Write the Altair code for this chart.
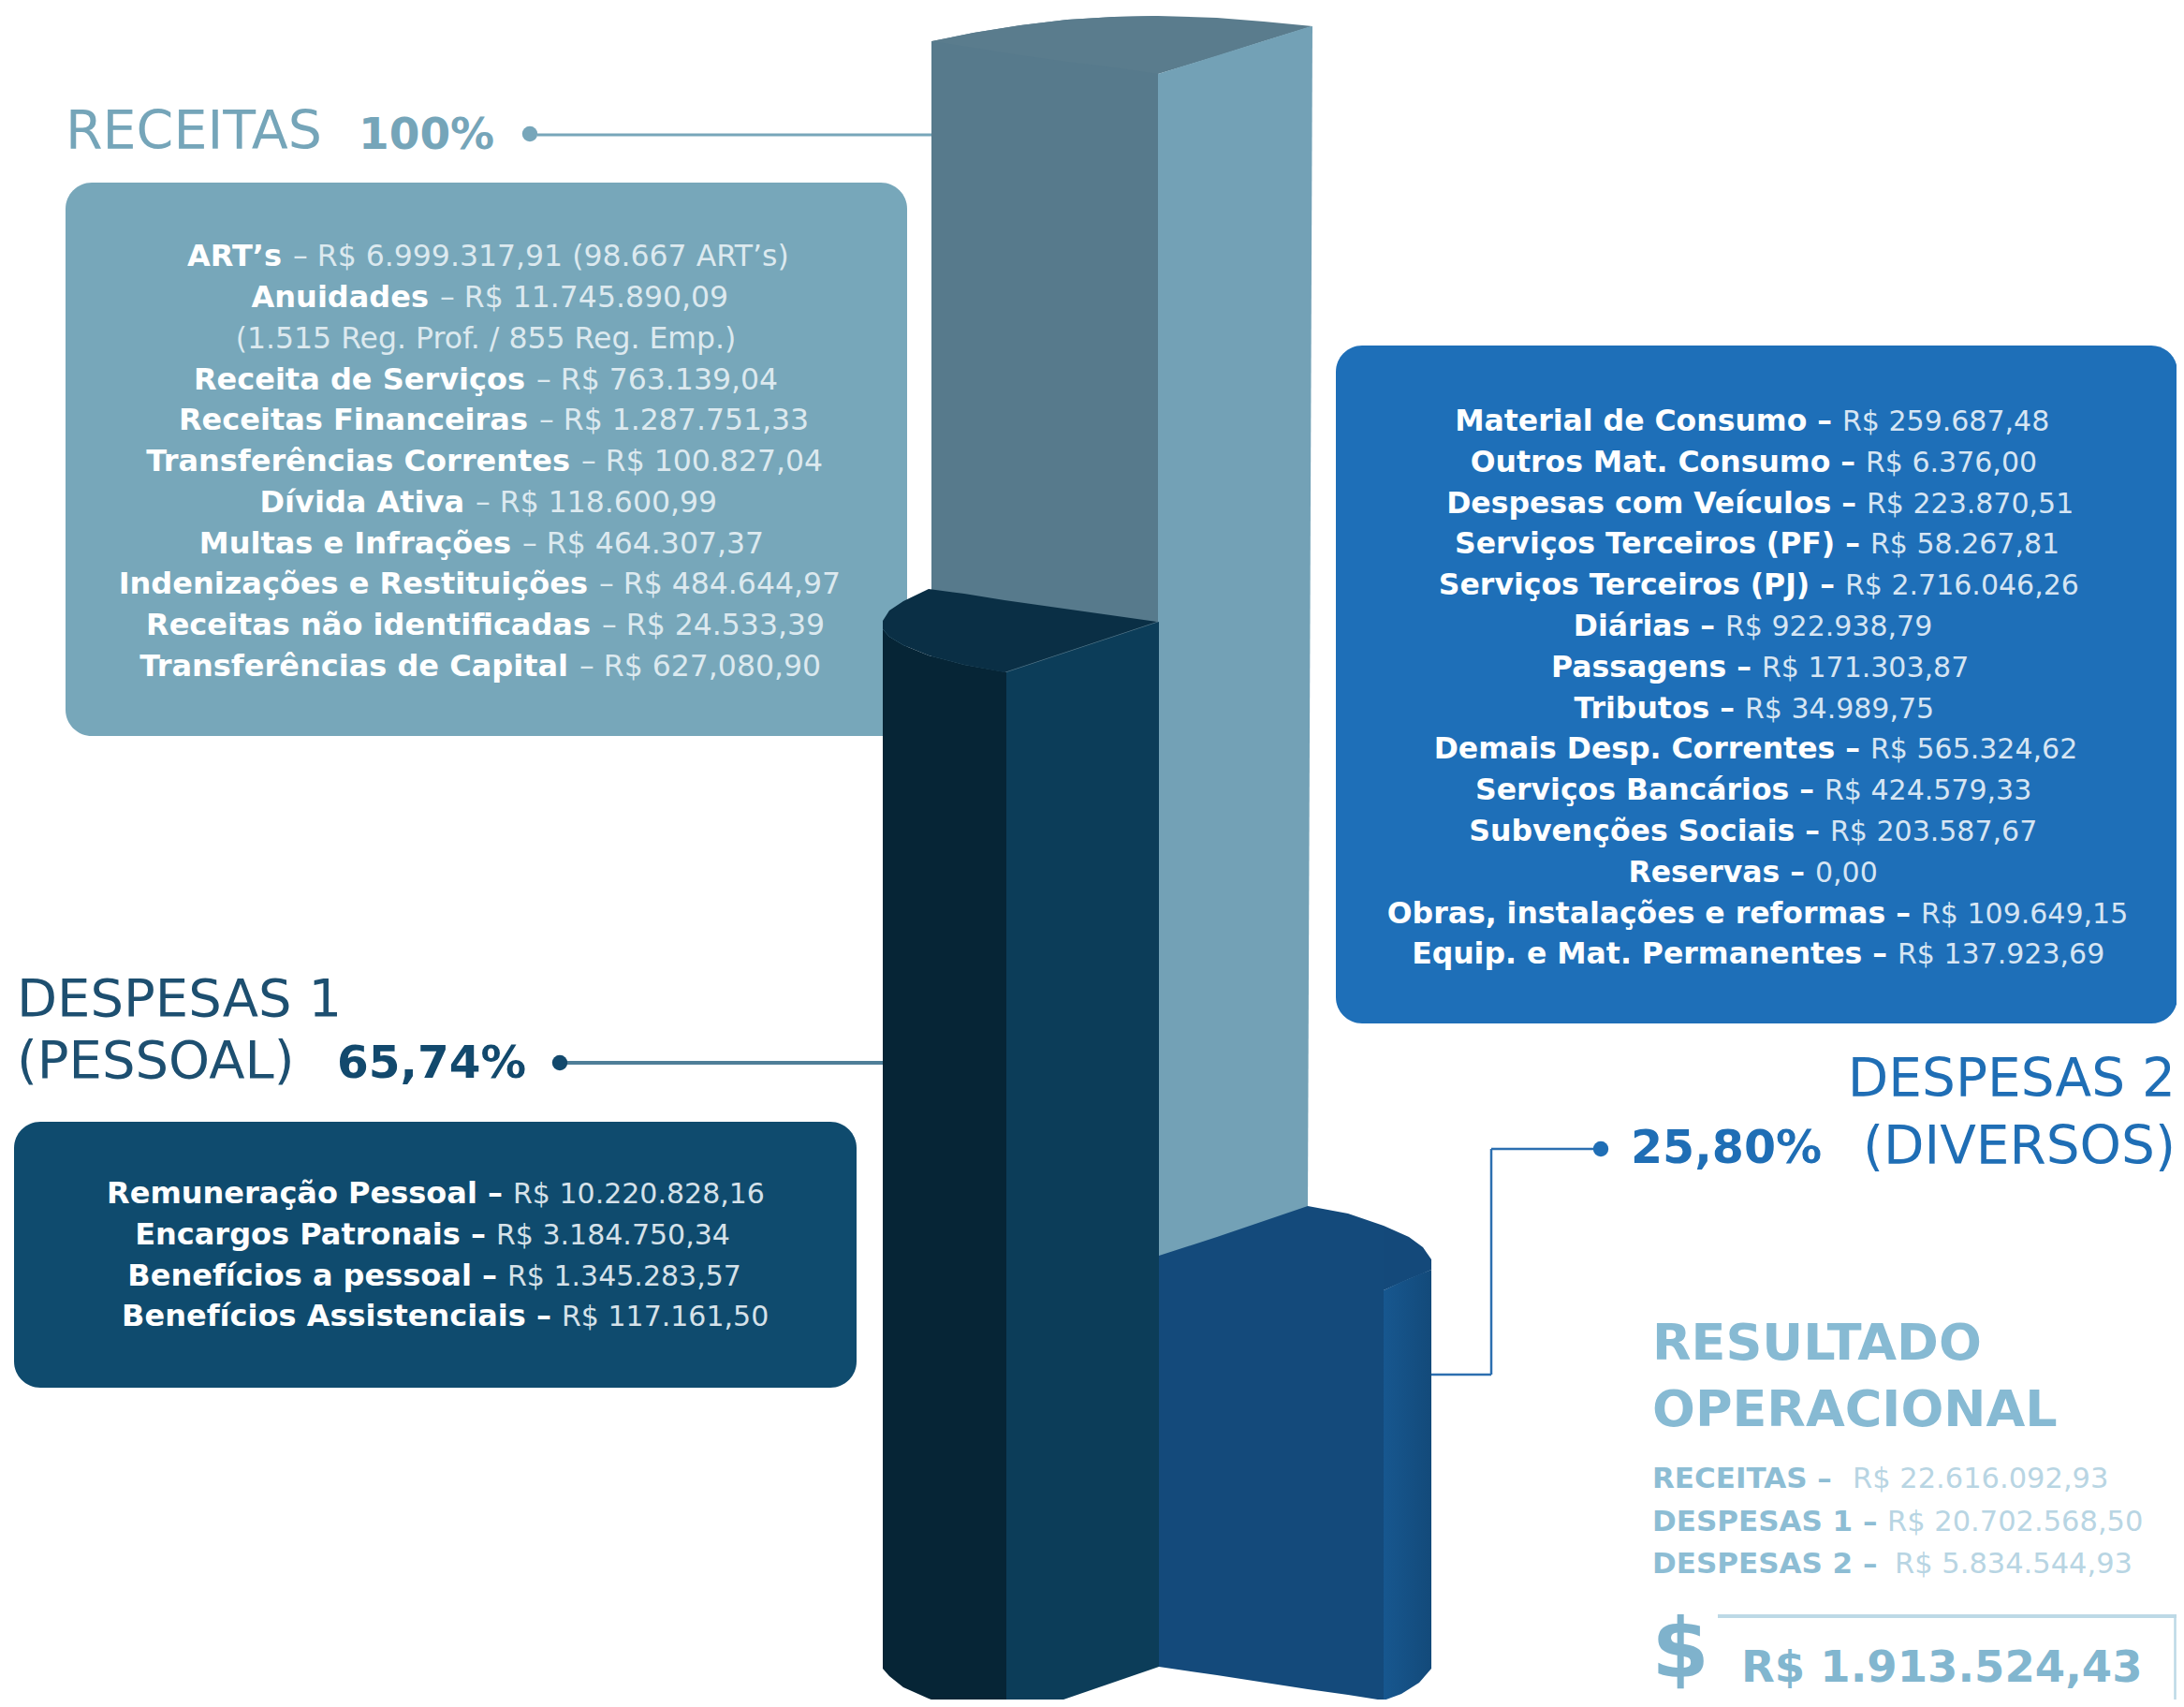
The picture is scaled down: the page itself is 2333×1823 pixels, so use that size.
import altair as alt
import pandas as pd

FONT = "DejaVu Sans"
X = alt.Scale(domain=[8, 2325], nice=False, zero=False)
Y = alt.Scale(domain=[8, 1815], reverse=True, nice=False, zero=False)

# ---------- column faces: x, upper edge, lower edge ----------
rec_body_x = [995, 1040, 1090, 1140, 1190, 1237]
rec_body_top = [44, 35, 27, 21, 18, 17]
rec_body_bot = [740, 740, 740, 740, 740, 740]
rec_cap_x = [996, 1040, 1090, 1140, 1190, 1237, 1300, 1350, 1402]
rec_cap_top = [44, 35, 27, 21, 18, 17, 19, 23, 28]
rec_cap_bot = [44, 51, 59, 66, 72, 79, 60, 44, 28]
rec_front_x = [1237, 1397, 1402]
rec_front_top = [79, 29, 28]
rec_front_bot = [1362, 1292, 28]

d2_body_x = [1238, 1300, 1397, 1440, 1478]
d2_body_top = [1341, 1321, 1288, 1296, 1309]
d2_body_bot = [1780, 1789, 1804, 1810, 1816]
d2_cap_x = [1478, 1505, 1520, 1529]
d2_cap_top = [1309, 1321, 1332, 1345]
d2_cap_bot = [1378, 1366, 1360, 1356]
d2_side_x = [1478, 1497, 1516, 1529]
d2_side_top = [1378, 1369, 1361, 1356]
d2_side_bot = [1816, 1809, 1797, 1782]

d1_left_x = [943, 950, 965, 992, 1030, 1075]
d1_left_top = [672, 680, 689, 700, 710, 718]
d1_left_bot = [1782, 1790, 1802, 1814, 1828, 1836]
d1_mid_x = [1075, 1238]
d1_mid_top = [718, 664]
d1_mid_bot = [1836, 1780]
d1_cap_x = [943, 950, 965, 992, 1030, 1073, 1236]
d1_cap_top = [663, 652, 642, 629, 634, 641, 664]
d1_cap_bot = [672, 680, 689, 700, 710, 718, 664]

# ---------- boxes ----------
box_x = [70, 15, 1427]
box_x2 = [969, 915, 2326]
box_y = [195, 1198, 369]
box_y2 = [786, 1482, 1093]
box_colors = ["#77A7BA", "#0F4B6E", "#1E6FB8"]

# ---------- box texts ----------
rec_bold = ["ART’s", "Anuidades", "Receita de Serviços", "Receitas Financeiras",
            "Transferências Correntes", "Dívida Ativa", "Multas e Infrações",
            "Indenizações e Restituições", "Receitas não identificadas",
            "Transferências de Capital"]
rec_rest = ["– R$ 6.999.317,91 (98.667 ART’s)", "– R$ 11.745.890,09", "– R$ 763.139,04",
            "– R$ 1.287.751,33", "– R$ 100.827,04", "– R$ 118.600,99", "– R$ 464.307,37",
            "– R$ 484.644,97", "– R$ 24.533,39", "– R$ 627,080,90"]
rec_split = [301, 458, 561, 564, 609, 496, 546, 628, 631, 607]
rec_base = [284, 328, 416, 459, 503, 547, 591, 634, 678, 722]
rec_note = "(1.515 Reg. Prof. / 855 Reg. Emp.)"

d2_bold = ["Material de Consumo –", "Outros Mat. Consumo –", "Despesas com Veículos –",
           "Serviços Terceiros (PF) –", "Serviços Terceiros (PJ) –", "Diárias –", "Passagens –",
           "Tributos –", "Demais Desp. Correntes –", "Serviços Bancários –", "Subvenções Sociais –",
           "Reservas –", "Obras, instalações e reformas –", "Equip. e Mat. Permanentes –"]
d2_rest = ["R$ 259.687,48", "R$ 6.376,00", "R$ 223.870,51", "R$ 58.267,81", "R$ 2.716.046,26",
           "R$ 922.938,79", "R$ 171.303,87", "R$ 34.989,75", "R$ 565.324,62", "R$ 424.579,33",
           "R$ 203.587,67", "0,00", "R$ 109.649,15", "R$ 137.923,69"]
d2_split = [1968, 1993, 1994, 1998, 1971, 1843, 1882, 1864, 1998, 1949, 1955, 1939, 2052, 2027]
d2_base = [460, 504, 548, 591, 635, 679, 723, 767, 810, 854, 898, 942, 986, 1029]

d1_bold = ["Remuneração Pessoal –", "Encargos Patronais –", "Benefícios a pessoal –",
           "Benefícios Assistenciais –"]
d1_rest = ["R$ 10.220.828,16", "R$ 3.184.750,34", "R$ 1.345.283,57", "R$ 117.161,50"]
d1_split = [548, 530, 542, 600]
d1_base = [1285, 1329, 1373, 1416]

res_bold = ["RECEITAS –", "DESPESAS 1 –", "DESPESAS 2 –"]
res_rest = ["R$ 22.616.092,93", "R$ 20.702.568,50", "R$ 5.834.544,93"]
res_split = [1979, 2016, 2024]
res_base = [1589, 1635, 1680]


def shape(xs, top, bot, color):
    df = pd.DataFrame({"x": xs, "top": top, "bot": bot})
    return alt.Chart(df).mark_area(orient="vertical", color=color, clip=True).encode(
        x=alt.X("x:Q", scale=X, axis=None),
        y=alt.Y("top:Q", scale=Y, axis=None),
        y2="bot:Q",
    )


def text(xs, ys, labels, color, size, weight=400, align="left", opacity=1.0):
    df = pd.DataFrame({"x": xs, "y": ys, "t": labels})
    return alt.Chart(df).mark_text(
        align=align, baseline="alphabetic", font=FONT, fontSize=size,
        fontWeight=weight, color=color, opacity=opacity,
    ).encode(
        x=alt.X("x:Q", scale=X, axis=None),
        y=alt.Y("y:Q", scale=Y, axis=None),
        text="t:N",
    )


def rule(x, x2, y, y2, color, width):
    df = pd.DataFrame({"x": [x], "x2": [x2], "y": [y], "y2": [y2]})
    return alt.Chart(df).mark_rule(color=color, strokeWidth=width).encode(
        x=alt.X("x:Q", scale=X, axis=None),
        x2="x2:Q",
        y=alt.Y("y:Q", scale=Y, axis=None),
        y2="y2:Q",
    )


def dot(x, y, color, size=270):
    df = pd.DataFrame({"x": [x], "y": [y]})
    return alt.Chart(df).mark_circle(color=color, size=size, opacity=1).encode(
        x=alt.X("x:Q", scale=X, axis=None),
        y=alt.Y("y:Q", scale=Y, axis=None),
    )


boxes = alt.Chart(pd.DataFrame({
    "x": box_x, "x2": box_x2, "y": box_y, "y2": box_y2, "c": box_colors
})).mark_rect(cornerRadius=28).encode(
    x=alt.X("x:Q", scale=X, axis=None),
    x2="x2:Q",
    y=alt.Y("y:Q", scale=Y, axis=None),
    y2="y2:Q",
    color=alt.Color("c:N", scale=None),
)

side_grad = alt.LinearGradient(
    gradient="linear",
    stops=[alt.GradientStop(color="#17578F", offset=0), alt.GradientStop(color="#134A7A", offset=1)],
    x1=0, x2=1, y1=0, y2=0,
)

layers = [
    boxes,
    rule(574, 996, 144, 144, "#77A6BA", 3),
    rule(600, 945, 1135, 1135, "#4F7E98", 4),
    rule(1528, 1593, 1468, 1468, "#2C6FB0", 2.5),
    rule(1593, 1593, 1468, 1227, "#2C6FB0", 2.5),
    rule(1593, 1705, 1227, 1227, "#2C6FB0", 2.5),
    dot(566, 143, "#77A6BA"),
    dot(598, 1135, "#12496D"),
    dot(1710, 1227, "#1F6EB5"),
    shape(rec_body_x, rec_body_top, rec_body_bot, "#577A8C"),
    shape(rec_cap_x, rec_cap_top, rec_cap_bot, "#5A7C8D"),
    shape(rec_front_x, rec_front_top, rec_front_bot, "#73A1B6"),
    shape(d2_body_x, d2_body_top, d2_body_bot, "#144A7B"),
    shape(d2_cap_x, d2_cap_top, d2_cap_bot, "#14497A"),
    shape(d2_side_x, d2_side_top, d2_side_bot, side_grad),
    shape(d1_left_x, d1_left_top, d1_left_bot, "#062536"),
    shape(d1_mid_x, d1_mid_top, d1_mid_bot, "#0C3D59"),
    shape(d1_cap_x, d1_cap_top, d1_cap_bot, "#0A2F45"),
    text([70], [159], ["RECEITAS"], "#75A5B9", 57),
    text([383], [159], ["100%"], "#75A5B9", 47, 700),
    text([18, 18], [1085, 1151], ["DESPESAS 1", "(PESSOAL)"], "#1D4F70", 56),
    text([360], [1151], ["65,74%"], "#12496D", 48.5, 700),
    text([2324, 2324], [1171, 1243], ["DESPESAS 2", "(DIVERSOS)"], "#1F6EB5", 56.5, 400, "right"),
    text([1742], [1242], ["25,80%"], "#1F6EB5", 49, 700),
    text(rec_split, rec_base, rec_bold, "#FFFFFF", 32, 700, "right"),
    text([s + 12 for s in rec_split], rec_base, rec_rest, "#DCE9EF", 31.5, 400),
    text([519], [372], [rec_note], "#DCE9EF", 31.5, 400, "center"),
    text([s - 11 for s in d2_split], d2_base, d2_bold, "#FFFFFF", 31.5, 700, "right"),
    text(d2_split, d2_base, d2_rest, "#D6E5F3", 30, 400),
    text([s - 11 for s in d1_split], d1_base, d1_bold, "#FFFFFF", 32, 700, "right"),
    text(d1_split, d1_base, d1_rest, "#D5E1E9", 30, 400),
    text([1765, 1765], [1452, 1523], ["RESULTADO", "OPERACIONAL"], "#87BAD3", 54, 700),
    text([1765, 1765, 1765], res_base, res_bold, "#8DBDD4", 31, 700),
    text(res_split, res_base, res_rest, "#B8D5E3", 30.5, 400),
    rule(1835, 2325, 1726, 1726, "#BDD9E6", 4),
    rule(2323.5, 2323.5, 1726, 1823, "#BDD9E6", 2.5),
    text([1795], [1790], ["$"], "#7FB2CC", 88, 700, "center"),
    text([1860], [1796], ["R$ 1.913.524,43"], "#82B6CF", 46.5, 700),
]

chart = alt.layer(*layers).properties(
    width=2317, height=1807, padding=0,
    autosize=alt.AutoSizeParams(type="none"),
    background="white",
).configure_view(strokeWidth=0)

chart.save("out.html", embed_options={"renderer": "svg", "actions": False})
